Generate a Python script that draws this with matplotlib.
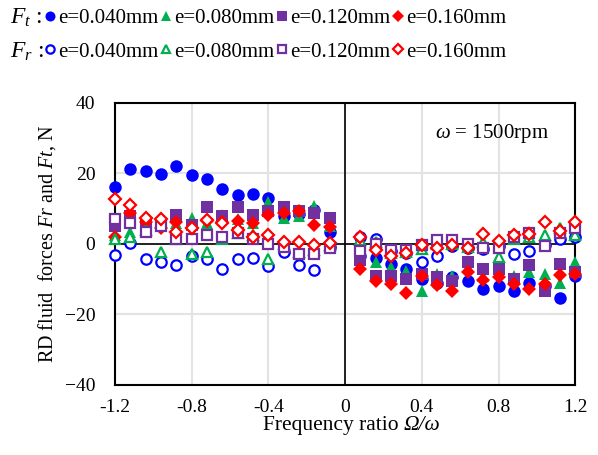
import numpy as np
import matplotlib
matplotlib.use("Agg")
import matplotlib.pyplot as plt

plt.rcParams['font.family'] = ['Liberation Serif', 'DejaVu Serif']
plt.rcParams['mathtext.fontset'] = 'custom'
plt.rcParams['mathtext.rm'] = 'Liberation Serif'
plt.rcParams['mathtext.it'] = 'Liberation Serif:italic'

# frequency ratio, left and right branches
x_neg = [-1.2, -1.12, -1.04, -0.96, -0.88, -0.8, -0.72, -0.64, -0.56, -0.48, -0.4, -0.32, -0.24, -0.16, -0.08]
x_pos = [0.08, 0.16, 0.24, 0.32, 0.4, 0.48, 0.56, 0.64, 0.72, 0.8, 0.88, 0.96, 1.04, 1.12, 1.2]
x_all = x_neg + x_pos

# tangential force Ft, N
ft_040 = [16.2, 21.2, 20.6, 19.8, 22.0, 19.6, 18.3, 15.5, 13.8, 14.2, 12.9, 7.8, 8.4, 9.5, 3.5,
          -3.5, -4.0, -5.7, -7.0, -10.0, -11.0, -9.5, -10.5, -12.7, -11.9, -13.4, -11.0, -12.0, -15.3, -9.0]
ft_080 = [2.6, 3.5, 6.9, 6.2, 5.8, 7.3, 5.8, 8.3, 7.0, 6.0, 11.9, 7.3, 8.0, 10.7, 5.0,
          -3.0, -5.2, -6.6, -7.6, -13.4, -8.6, -9.0, -6.5, -9.0, -8.0, -9.0, -8.1, -8.6, -11.0, -5.2]
ft_120 = [5.0, 7.8, 5.5, 5.4, 8.3, 5.4, 10.4, 7.8, 10.4, 8.3, 9.4, 10.4, 9.4, 8.7, 7.3,
          -4.5, -9.0, -9.0, -10.0, -8.5, -9.5, -10.5, -5.2, -7.1, -7.1, -10.0, -6.1, -13.4, -5.7, -8.0]
ft_160 = [2.0, 8.7, 6.3, 4.4, 6.3, 4.4, 6.5, 6.1, 6.5, 5.9, 8.3, 8.7, 9.4, 5.4, 4.9,
          -7.1, -10.5, -11.4, -14.0, -9.0, -11.7, -13.4, -7.9, -10.2, -9.5, -11.4, -12.9, -11.4, -8.8, -8.6]

# radial force Fr, N
fr_040 = [-3.1, 0.3, -4.2, -5.2, -6.1, -3.5, -4.2, -7.1, -4.2, -4.0, -6.4, -2.3, -6.0, -7.4, -1.0,
          2.0, 1.5, -2.0, -2.5, -5.0, -3.3, -0.5, -1.3, -1.5, -0.5, -2.8, -2.1, -0.4, 1.5, 2.0]
fr_080 = [1.5, 2.0, 4.0, -2.3, 1.5, -3.0, -2.3, 1.3, 3.0, 2.6, -4.2, 0.1, -2.3, -1.8, -0.4,
          1.2, 0.5, -2.5, -2.2, -1.5, 0.0, 0.0, -1.0, 0.5, -3.7, 1.5, 2.0, 2.5, 4.4, 2.5]
fr_120 = [7.0, 6.0, 3.5, 5.0, 1.5, 1.5, 2.5, 2.0, 3.0, 1.5, 0.1, -0.9, -2.8, -2.8, -1.3,
          -2.0, 0.0, -1.8, -1.8, -0.3, 1.1, 1.1, 0.1, -1.3, -1.3, 2.0, 3.0, -0.6, 3.0, 4.6]
fr_160 = [12.6, 10.9, 7.3, 7.1, 3.5, 4.5, 6.8, 6.0, 3.9, 2.0, 2.5, 0.6, 0.6, -0.4, 0.3,
          2.0, -1.8, -3.3, -2.5, -0.2, -1.2, -0.4, -1.3, 2.7, 0.8, 2.5, 2.8, 6.1, 3.7, 6.1]

labels = ["e=0.040mm", "e=0.080mm", "e=0.120mm", "e=0.160mm"]
colors = ["#0000FF", "#00B050", "#7030A0", "#FF0000"]
markers = ["o", "^", "s", "D"]
msizes = [9, 9, 9, 7.5]
ft = [ft_040, ft_080, ft_120, ft_160]
fr = [fr_040, fr_080, fr_120, fr_160]

fig = plt.figure(figsize=(5.98, 4.55), dpi=100)
ax = fig.add_axes([0.192, 0.154, 0.77, 0.62])

ft_h = []
for y, c, m, s in zip(ft, colors, markers, msizes):
    h, = ax.plot(x_all, y, linestyle="none", marker=m, color=c, markersize=s,
                 markeredgewidth=0, zorder=3, clip_on=False)
    ft_h.append(h)
fr_h = []
for y, c, m, s in zip(fr, colors, markers, msizes):
    h, = ax.plot(x_all, y, linestyle="none", marker=m, markerfacecolor="white",
                 markeredgecolor=c, markersize=s - 1.5, markeredgewidth=1.6,
                 zorder=4, clip_on=False)
    fr_h.append(h)

ax.set_xlim(-1.2, 1.2)
ax.set_ylim(-40, 40)
ax.set_xticks([-1.2, -0.8, -0.4, 0, 0.4, 0.8, 1.2])
ax.set_xticklabels(["-1.2", "-0.8", "-0.4", "0", "0.4", "0.8", "1.2"])
ax.set_yticks([-40, -20, 0, 20, 40])
ax.tick_params(axis="both", length=0, labelsize=14)
ax.tick_params(axis="y", pad=14)
ax.tick_params(axis="x", pad=10)
ax.grid(True, color="#e3e3e3", linewidth=1.5, zorder=0)
ax.set_axisbelow(True)
ax.axhline(0, color="black", linewidth=1.2, zorder=2)
ax.axvline(0, color="black", linewidth=1.2, zorder=2)
for sp in ax.spines.values():
    sp.set_linewidth(1.5)
    sp.set_color("black")

# x label: plain part + italic Ω/ω (mathtext keeps capital Greek upright)
xl = ax.text(0.627, -0.145, "Frequency ratio ", transform=ax.transAxes, fontsize=15.5,
             ha="right", va="center")
ax.annotate("Ω/ω", xy=(1, 0.5), xycoords=xl, fontsize=15.5, fontstyle="italic",
            ha="left", va="center")
ax.set_ylabel(r"RD fluid  forces $\mathit{Fr}$ and $\mathit{Ft}$, N", fontsize=14.5, labelpad=5)
ax.text(0.82, 0.89, r"$\mathit{ω}$ = 1500rpm", transform=ax.transAxes, fontsize=15,
        ha="center", va="center")

leg_kw = dict(ncol=4, loc="center left", frameon=False, fontsize=15, markerscale=0.8,
              handlelength=0.4, handletextpad=0.2, columnspacing=0.17, borderaxespad=0)
fig.legend(ft_h, labels, bbox_to_anchor=(0.062, 0.96), **leg_kw)
fig.legend(fr_h, labels, bbox_to_anchor=(0.062, 0.886), **leg_kw)
fig.text(0.017, 0.96, r"$F_t$ :", fontsize=17, va="center")
fig.text(0.017, 0.886, r"$F_r$ :", fontsize=17, va="center")

fig.savefig("out.png", dpi=100)
